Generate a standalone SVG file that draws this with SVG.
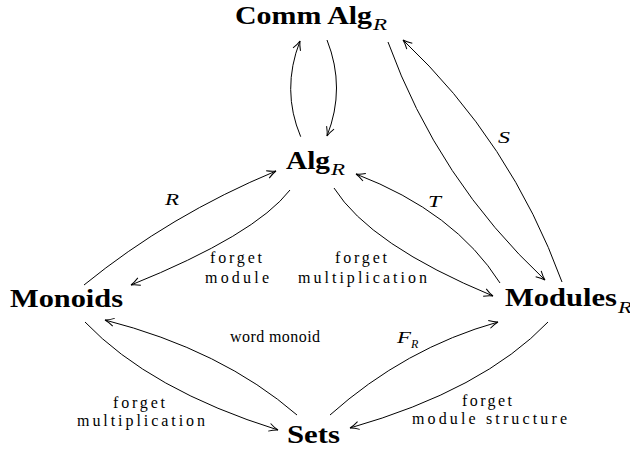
<svg xmlns="http://www.w3.org/2000/svg" width="630" height="452" viewBox="0 0 630 452">
<style>
.node{font-family:"Liberation Serif","DejaVu Serif",serif;font-weight:bold;font-size:26px;fill:#000}
.sub{font-family:"Liberation Serif","DejaVu Serif",serif;font-style:italic;font-size:17px;fill:#000}
.lbl{font-family:"Liberation Serif","DejaVu Serif",serif;font-size:16px;fill:#000}
.math{font-family:"Liberation Serif","DejaVu Serif",serif;font-style:italic;font-weight:normal;font-size:17px;fill:#000}
.msub{font-family:"Liberation Serif","DejaVu Serif",serif;font-style:italic;font-size:12px;fill:#000}
.edge{fill:none;stroke:#000;stroke-width:1;marker-end:url(#ah)}
</style>
<defs>
<marker id="ah" viewBox="-10 -5 12 10" refX="0" refY="0" markerWidth="12" markerHeight="10" markerUnits="userSpaceOnUse" orient="auto">
<path d="M-9,-4 Q-4,-1 0,0 Q-4,1 -9,4" fill="none" stroke="#000" stroke-width="1"/>
</marker>
</defs>
<rect width="630" height="452" fill="#fff"/>
<g id="connectors">
<path class="edge" d="M300.7,136.7 Q281,90 300,41"/>
<path class="edge" d="M327,40 Q346,88 327,136"/>
<path class="edge" d="M388,42 Q438,180 545,280"/>
<path class="edge" d="M562,282 Q511,142 403,40"/>
<path class="edge" d="M84,285 Q170,215 276,171"/>
<path class="edge" d="M290,190 Q255,235 131,285"/>
<path class="edge" d="M334,188 Q370,245 493,296"/>
<path class="edge" d="M500,283 Q455,212 356,174"/>
<path class="edge" d="M297,415 Q222,350 105,320"/>
<path class="edge" d="M85,322 Q150,390 278,430"/>
<path class="edge" d="M330,415 Q405,348 498,322"/>
<path class="edge" d="M548,322 Q483,390 350,428"/>
</g>
<g id="edge-labels">
<text class="math" x="165" y="205" textLength="14" lengthAdjust="spacingAndGlyphs">R</text>
<text class="math" x="428" y="207" textLength="13" lengthAdjust="spacingAndGlyphs">T</text>
<text class="math" x="498" y="143" textLength="12" lengthAdjust="spacingAndGlyphs">S</text>
<text class="math" x="397" y="343" textLength="14" lengthAdjust="spacingAndGlyphs">F</text>
<text class="msub" x="411" y="348">R</text>
<text class="lbl" x="210" y="263" textLength="52" lengthAdjust="spacing">forget</text>
<text class="lbl" x="205" y="283" textLength="64" lengthAdjust="spacing">module</text>
<text class="lbl" x="335" y="263" textLength="52" lengthAdjust="spacing">forget</text>
<text class="lbl" x="298" y="283" textLength="129" lengthAdjust="spacing">multiplication</text>
<text class="lbl" x="230" y="342" textLength="90" lengthAdjust="spacing">word monoid</text>
<text class="lbl" x="113" y="408" textLength="52" lengthAdjust="spacing">forget</text>
<text class="lbl" x="77" y="426" textLength="128" lengthAdjust="spacing">multiplication</text>
<text class="lbl" x="462" y="406" textLength="50" lengthAdjust="spacing">forget</text>
<text class="lbl" x="412" y="424" textLength="155" lengthAdjust="spacing">module structure</text>
</g>
<g id="node-commalg">
<text class="node" x="235" y="24" textLength="137" lengthAdjust="spacingAndGlyphs">Comm Alg</text>
<text class="sub" x="373" y="30" textLength="14" lengthAdjust="spacingAndGlyphs">R</text>
</g>
<g id="node-alg">
<text class="node" x="286" y="169" textLength="44" lengthAdjust="spacingAndGlyphs">Alg</text>
<text class="sub" x="331" y="175" textLength="14" lengthAdjust="spacingAndGlyphs">R</text>
</g>
<g id="node-monoids">
<text class="node" x="10" y="307" textLength="113" lengthAdjust="spacingAndGlyphs">Monoids</text>
</g>
<g id="node-modules">
<text class="node" x="505" y="306" textLength="112" lengthAdjust="spacingAndGlyphs">Modules</text>
<text class="sub" x="618" y="313" textLength="14" lengthAdjust="spacingAndGlyphs">R</text>
</g>
<g id="node-sets">
<text class="node" x="287" y="443" textLength="53" lengthAdjust="spacingAndGlyphs">Sets</text>
</g>
</svg>
